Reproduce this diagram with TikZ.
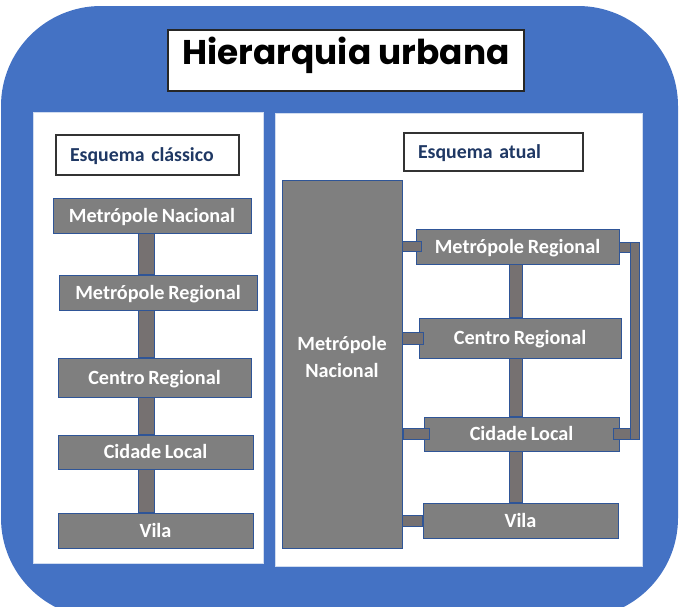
\documentclass[tikz,border=0pt]{standalone}
\usepackage{fontspec}
\setmainfont{Carlito}[WordSpace=0.8]
\newfontfamily\titlefont{Poppins}
\usetikzlibrary{calc}
\pgfdeclarelayer{back}
\pgfdeclarelayer{bars}
\pgfsetlayers{back,bars,main}
\definecolor{obblue}{HTML}{4472C4}
\definecolor{boxgray}{HTML}{7F7F7F}
\definecolor{barfill}{HTML}{767171}
\definecolor{edgeblue}{HTML}{2F5597}
\definecolor{navy}{HTML}{1F3864}
\tikzset{
  panel/.style={draw=white!75!obblue, line width=0.8pt, fill=white, inner sep=0pt},
  citybox/.style={draw=edgeblue, line width=1pt, fill=boxgray, inner sep=0pt,
    text=white, font=\fontsize{20.2}{27}\selectfont\bfseries, text height=13pt, text depth=0pt},
  barst/.style={draw=edgeblue, line width=0.8pt, fill=barfill},
  esq/.style={draw=black!80, line width=1.3pt, fill=white, inner xsep=14pt, inner ysep=0pt,
    text=navy, font=\fontsize{19.8}{22}\selectfont\bfseries, align=left, text height=12.5pt, text depth=0pt},
  titlebox/.style={draw=black!85, line width=1.2pt, fill=white, inner sep=0pt,
    font=\titlefont\fontsize{34.3}{36}\selectfont\bfseries, text height=25pt, text depth=18pt}
}
\begin{document}
\begin{tikzpicture}[x=1pt,y=-1pt]
\useasboundingbox (0,0) rectangle (679,606);
\begin{pgfonlayer}{back}
\clip (0,0) rectangle (679,606);
\fill[obblue, rounded corners=100pt] (1,6) rectangle (678,618);
\node[panel, minimum width=230pt, minimum height=451pt] (lpanel) at (148,337.5) {};
\node[panel, minimum width=367pt, minimum height=453pt] (rpanel) at (458.5,339.5) {};
\end{pgfonlayer}

\node[titlebox, minimum width=356pt, minimum height=61pt] (title) at (346,60.5) {Hierarquia urbana};

\node[esq, text width=155pt, minimum height=40pt] (esqc) at (147.5,155) {Esquema clássico};
\node[esq, text width=151pt, minimum height=38pt] (esqa) at (493.5,152) {Esquema atual};

% left column
\node[citybox, minimum width=198pt, minimum height=35pt] (lmn) at (152,215.5) {Metrópole Nacional};
\node[citybox, minimum width=198pt, minimum height=35pt] (lmr) at (158,292.5) {Metrópole Regional};
\node[citybox, minimum width=193pt, minimum height=39pt] (lcr) at (154.5,377.5) {Centro Regional};
\node[citybox, minimum width=195pt, minimum height=34pt] (lcl) at (155.5,452) {Cidade Local};
\node[citybox, minimum width=195pt, minimum height=35pt] (lv) at (155.5,530.5) {Vila};

% right column
\node[citybox, minimum width=120pt, minimum height=368pt, align=center, text height=40pt, text depth=14pt] (rmn) at (342,364) {Metrópole\\Nacional};
\node[citybox, minimum width=203pt, minimum height=35pt] (rmr) at (517.5,246.5) {Metrópole Regional};
\node[citybox, minimum width=202pt, minimum height=40pt] (rcr) at (520,338) {Centro Regional};
\node[citybox, minimum width=195pt, minimum height=34pt] (rcl) at (521.5,434) {Cidade Local};
\node[citybox, minimum width=195pt, minimum height=35pt] (rv) at (520.5,520.5) {Vila};

\coordinate (lbar) at (146,0);
\coordinate (rbar) at (515.5,0);
\coordinate (brk) at (634.5,0);

\begin{pgfonlayer}{bars}
\foreach \a/\b in {lmn/lmr, lmr/lcr, lcr/lcl, lcl/lv}
  \draw[barst] ($(\a.south -| lbar)+(-8,0)$) rectangle ($(\b.north -| lbar)+(8,0)$);
\foreach \a/\b in {rmr/rcr, rcr/rcl, rcl/rv}
  \draw[barst] ($(\a.south -| rbar)+(-6.5,0)$) rectangle ($(\b.north -| rbar)+(6.5,0)$);
\end{pgfonlayer}

% stubs from the national metropolis
\draw[barst] ($(rmn.east |- rmr.west)+(0,-5)$) rectangle ($(rmr.west)+(6,5)$);
\draw[barst] ($(rmn.east |- rcr.west)+(0,-6)$) rectangle ($(rcr.west)+(5,6)$);
\draw[barst] ($(rmn.east |- rcl.west)+(1,-5.5)$) rectangle ($(rcl.west)+(6,5.5)$);
\draw[barst] ($(rmn.east |- rv.west)+(0,-5.5)$) rectangle ($(rv.west)+(0,5.5)$);

% bracket between Metrópole Regional and Cidade Local
\draw[barst] ($(rmr.east)+(0,-4.5)$) rectangle ($(rmr.east -| brk)+(-4.5,5.5)$);
\draw[barst] ($(rcl.east)+(-6,-5.5)$) rectangle ($(rcl.east -| brk)+(-4.5,5.5)$);
\draw[barst] ($(rmr.east -| brk)+(-4.5,-4.5)$) rectangle ($(rcl.east -| brk)+(4.5,5.5)$);
\end{tikzpicture}
\end{document}
